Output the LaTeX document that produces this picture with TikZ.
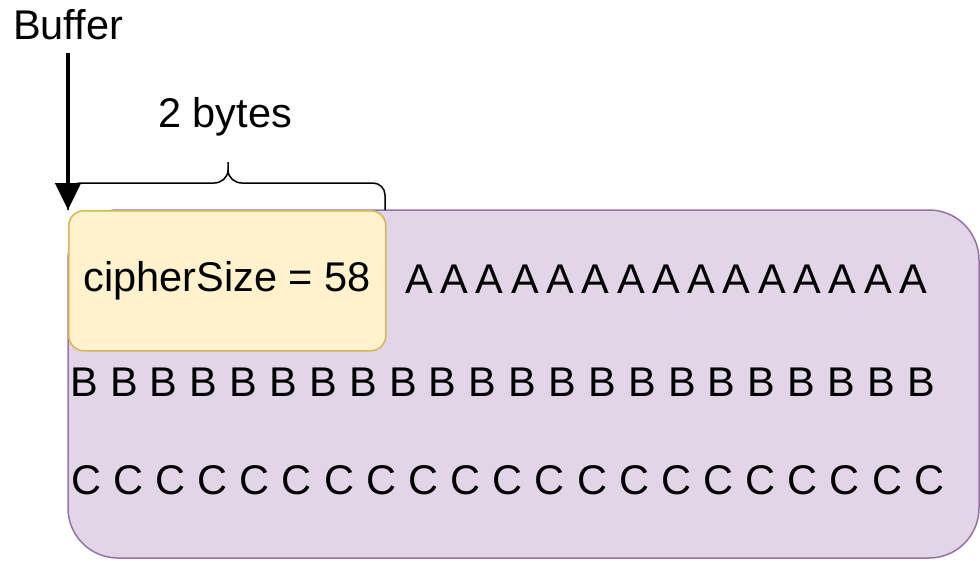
\documentclass[tikz,border=0pt]{standalone}
\usepackage{fontspec}
\setmainfont{Liberation Sans}
\usetikzlibrary{arrows.meta}

\definecolor{lilacfill}{HTML}{E1D5E7}
\definecolor{lilacline}{HTML}{9673A6}
\definecolor{sandfill}{HTML}{FFF2CC}
\definecolor{sandline}{HTML}{D6B656}

\tikzset{
  lbl/.style={inner sep=0pt, font=\fontsize{41.5}{50}\selectfont},
  cell/.style={lbl, anchor=base west},
  bracket/.style={line width=1.5pt, line join=round},
}

\begin{document}
\begin{tikzpicture}[x=1pt,y=-1pt]
    %frame
    \useasboundingbox (0,0) rectangle (980,560);
    \clip (0,0) rectangle (980,560);
    %boxes
    \draw[lilacline, fill=lilacfill, line width=1.5pt, rounded corners=50pt] (68,210) rectangle (979,558);
    \node[lbl, draw=sandline, fill=sandfill, line width=1.5pt, rounded corners=15pt,
          minimum width=317pt, minimum height=140pt, anchor=north west] (size) at (68,210) {cipherSize = 58};
    %content rows
    \foreach \i in {0,...,14}
        \node[cell] (a\i) at ({405+35.3*\i},293) {A};
    \foreach \i in {0,...,21}
        \node[cell] (b\i) at ({70+39.86*\i},396) {B};
    \foreach \i in {0,...,20}
        \node[cell] (c\i) at ({71+42.15*\i},494) {C};
    %pointer
    \node[lbl, anchor=base] (buffer) at (68,39) {Buffer};
    \coordinate (start) at (size.north west);
    \draw[-{Triangle[length=27pt,width=25pt]}, line width=4.5pt, shorten <=13pt] (buffer.south) -- (start);
    %brace
    \draw[bracket] (68,210) -- (68,195) to[out=90,in=180] (80,183) -- (214,183) to[out=0,in=-90] (228,170) -- (228,162)
        (228,170) to[out=-90,in=180] (242,183) -- (373,183) to[out=0,in=90] (385,195) -- (385,210);
    \node[lbl, anchor=base] (bytes) at (225,127) {2 bytes};
\end{tikzpicture}
\end{document}
